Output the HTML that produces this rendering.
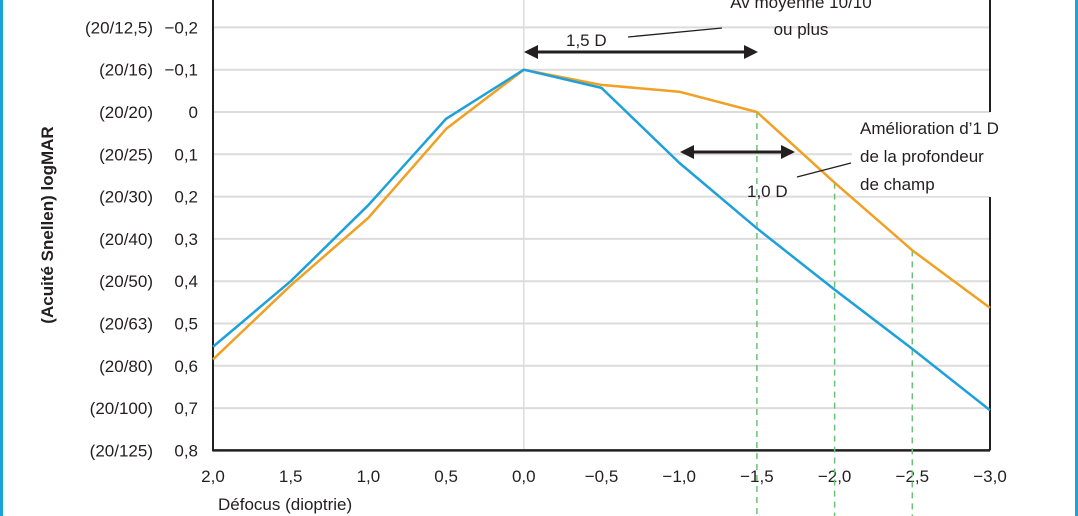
<!DOCTYPE html>
<html><head><meta charset="utf-8"><style>
body{margin:0;background:#fff}
svg{display:block}
text{font-family:"Liberation Sans Narrow","Liberation Sans",sans-serif;fill:#231f20}
</style></head><body>
<svg id="chart" width="1078" height="516">
<rect x="0" y="0" width="3" height="516" fill="#1ba1dc"/>
<rect x="1075" y="0" width="3" height="516" fill="#1ba1dc"/>
<g id="grid"></g>
<g id="axes"></g>
<g id="series"></g>
<g id="annot"></g>
</svg>
<script>
const xTicks=[2.0,1.5,1.0,0.5,0.0,-0.5,-1.0,-1.5,-2.0,-2.5,-3.0];
const xTickLabels=["2,0","1,5","1,0","0,5","0,0","−0,5","−1,0","−1,5","−2,0","−2,5","−3,0"];
const yTicks=[-0.2,-0.1,0,0.1,0.2,0.3,0.4,0.5,0.6,0.7,0.8];
const yTickLabels=["−0,2","−0,1","0","0,1","0,2","0,3","0,4","0,5","0,6","0,7","0,8"];
const snellenLabels=["(20/12,5)","(20/16)","(20/20)","(20/25)","(20/30)","(20/40)","(20/50)","(20/63)","(20/80)","(20/100)","(20/125)"];
const blueValues=[0.555,0.40,0.22,0.016,-0.10,-0.057,0.12,0.275,0.42,0.56,0.705];
const orangeValues=[0.585,0.41,0.25,0.04,-0.10,-0.064,-0.048,0.0,0.167,0.327,0.463];
const dashedLines=[-1.5,-2.0,-2.5];

const NS="http://www.w3.org/2000/svg";
const X0=213,X1=990,Y0=112,DY=423;
function sx(v){return X0+(2.0-v)/5.0*(X1-X0);}
function sy(v){return Y0+v*DY;}
function mk(tag,attrs,parent,txt){const e=document.createElementNS(NS,tag);for(const k in attrs)e.setAttribute(k,attrs[k]);if(txt!==undefined)e.textContent=txt;parent.appendChild(e);return e;}
const grid=document.getElementById('grid'),axes=document.getElementById('axes'),series=document.getElementById('series'),annot=document.getElementById('annot');

yTicks.forEach((v,i)=>{
  if(i<yTicks.length-1){
    const g=mk('line',{x1:X0,x2:X1,y1:sy(v),y2:sy(v),stroke:'#dcdcdc','stroke-width':2},grid);
    
    
  }
  const t=mk('text',{x:198,y:sy(v)+6,'text-anchor':'end','font-size':17},axes,yTickLabels[i]);
  
  
  const s=mk('text',{x:153,y:sy(v)+6,'text-anchor':'end','font-size':17},axes,snellenLabels[i]);
  
  
});
const vz=mk('line',{x1:sx(0),x2:sx(0),y1:0,y2:sy(0.8),stroke:'#dcdcdc','stroke-width':1.5},grid);



xTicks.forEach((v,i)=>{
  const t=mk('text',{x:sx(v),y:482,'text-anchor':'middle','font-size':17},axes,xTickLabels[i]);
  
  
});
const la=mk('line',{x1:X0,x2:X0,y1:0,y2:sy(0.8)+1,stroke:'#231f20','stroke-width':2},axes);


const ba=mk('line',{x1:X0,x2:X1,y1:sy(0.8),y2:sy(0.8),stroke:'#231f20','stroke-width':2.5},axes);


const r1=mk('line',{x1:X1,x2:X1,y1:0,y2:112,stroke:'#231f20','stroke-width':2},axes);


const r2=mk('line',{x1:X1,x2:X1,y1:197,y2:sy(0.8),stroke:'#231f20','stroke-width':2},axes);


const yt=mk('text',{x:0,y:0,'text-anchor':'middle','font-size':17,'font-weight':'bold',transform:'translate(53,225) rotate(-90)'},axes,'(Acuité Snellen) logMAR');


const xt=mk('text',{x:218,y:510,'font-size':17},axes,'Défocus (dioptrie)');



dashedLines.forEach((d,i)=>{
  const y=sy(orangeValues[xTicks.indexOf(d)]);
  const l=mk('line',{x1:sx(d),x2:sx(d),y1:y,y2:516,stroke:'#6cc07a','stroke-width':1.5,'stroke-dasharray':'6,5'},series);
  
  
});
function pts(vals){return vals.map((v,i)=>sx(xTicks[i])+','+sy(v)).join(' ');}
const po=mk('polyline',{points:pts(orangeValues),fill:'none',stroke:'#f0a023','stroke-width':2.5,'stroke-linejoin':'round'},series);


const pb=mk('polyline',{points:pts(blueValues),fill:'none',stroke:'#1ea0db','stroke-width':2.5,'stroke-linejoin':'round'},series);



// annotations
const wb=mk('rect',{x:852,y:113,width:138,height:83,fill:'#fff'},annot);


function arrow(xa,xb,y,name){
  const g=mk('g',{},annot);
  
  
  mk('line',{x1:xa+10,x2:xb-10,y1:y,y2:y,stroke:'#231f20','stroke-width':3},g);
  mk('polygon',{points:`${xa},${y} ${xa+14},${y-7} ${xa+14},${y+7}`,fill:'#231f20'},g);
  mk('polygon',{points:`${xb},${y} ${xb-14},${y-7} ${xb-14},${y+7}`,fill:'#231f20'},g);
}
arrow(524,758,52,'arrow-1-5d');
arrow(680,795,152,'arrow-1-0d');
const texts=[
 ['1,5 D',566,46,'start','label-1-5d'],
 ['Av moyenne 10/10',801,8,'middle','label-av-moyenne'],
 ['ou plus',801,35,'middle','label-ou-plus'],
 ['Amélioration d’1 D',860,134,'start','label-amelioration'],
 ['de la profondeur',860,162,'start','label-profondeur'],
 ['de champ',860,190,'start','label-de-champ'],
 ['1,0 D',747,197,'start','label-1-0d']];
texts.forEach(t=>{
  const e=mk('text',{x:t[1],y:t[2],'text-anchor':t[3],'font-size':17},annot,t[0]);
  
  
});
const l1=mk('line',{x1:628,y1:37,x2:722,y2:28,stroke:'#231f20','stroke-width':1.3},annot);


const l2=mk('line',{x1:797,y1:177,x2:851,y2:163,stroke:'#231f20','stroke-width':1.3},annot);


</script>
</body></html>
